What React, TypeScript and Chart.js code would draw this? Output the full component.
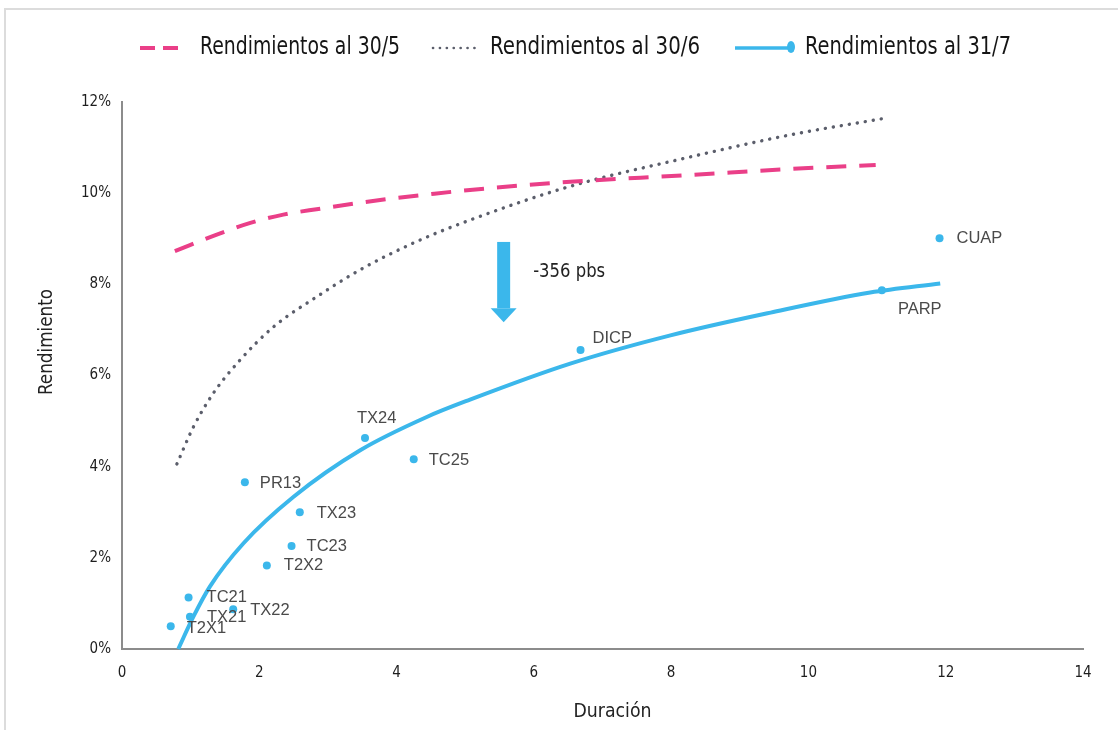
import React, { useEffect, useRef } from 'react';
import { Chart, registerables } from 'chart.js';

Chart.register(...registerables);

// ---------- data ----------
const seriesNames = ['Rendimientos al 30/5', 'Rendimientos al 30/6', 'Rendimientos al 31/7'];

// trend 30/5 (pink dashed)
const may30Dur = [0.77, 1.43, 1.87, 2.35, 2.89, 3.37, 3.91, 4.44, 5.07, 6.53, 8.18, 9.74, 10.98];
const may30Yield = [8.73, 9.12, 9.35, 9.53, 9.66, 9.77, 9.88, 9.97, 10.07, 10.25, 10.39, 10.53, 10.62];

// trend 30/6 (grey dotted)
const jun30Dur = [0.8, 1.04, 1.33, 1.72, 2.21, 2.84, 3.47, 4.25, 5.07, 6.53, 8.18, 9.74, 11.1];
const jun30Yield = [4.06, 4.87, 5.61, 6.34, 7.07, 7.73, 8.32, 8.91, 9.41, 10.15, 10.76, 11.28, 11.64];

// trend 31/7 (blue solid)
const jul31Dur = [0.82, 1.04, 1.28, 1.77, 2.5, 3.47, 4.44, 5.07, 6.53, 7.99, 9.45, 10.9, 11.92];
const jul31Yield = [0.0, 0.71, 1.37, 2.32, 3.34, 4.36, 5.09, 5.47, 6.26, 6.88, 7.38, 7.82, 8.02];

// bonds at 31/7
const bondNames = ['T2X1', 'TC21', 'TX21', 'TX22', 'T2X2', 'TC23', 'TX23', 'PR13', 'TX24', 'TC25', 'DICP', 'PARP', 'CUAP'];
const bondDur = [0.71, 0.97, 0.99, 1.62, 2.11, 2.47, 2.59, 1.79, 3.54, 4.25, 6.68, 11.07, 11.91];
const bondYield = [0.5, 1.13, 0.71, 0.87, 1.83, 2.26, 3.0, 3.66, 4.63, 4.16, 6.56, 7.87, 9.01];

const xTitle = 'Duración';
const yTitle = 'Rendimiento';

// annotation
const arrowText = '-356 pbs';
const arrowDur = 5.56;
const arrowFrom = 8.93;
const arrowTo = 7.17;
const arrowTextDur = 5.99;
const arrowTextYield = 8.27;

// ---------- styles ----------
const PINK = '#ea3f88';
const GREY = '#5b5e6b';
const BLUE = '#3bb7eb';
const NARROW = '"Liberation Sans Narrow", "DejaVu Sans Condensed", sans-serif';
const SANS = '"Liberation Sans", Arial, sans-serif';

// label offsets (px) relative to each bond point: [dx, dy]
const labelOffsets: [number, number][] = [
  [16, 2], [18, 0], [17, 1], [17, 1], [17, 0], [15, 0], [17, 1], [15, 1],
  [-8, -19], [15, 1], [12, -12], [16, 19], [17, 0],
];

const pts = (xs: number[], ys: number[]) => xs.map((x, i) => ({ x, y: ys[i] }));

const overlay = {
  id: 'overlay',
  beforeDraw(chart: any) {
    const { ctx, width, height } = chart;
    ctx.save();
    ctx.fillStyle = '#ffffff';
    ctx.fillRect(0, 0, width, height);
    ctx.strokeStyle = '#dcdcdc';
    ctx.lineWidth = 2;
    ctx.beginPath();
    ctx.moveTo(5, height + 5);
    ctx.lineTo(5, 9);
    ctx.lineTo(width + 5, 9);
    ctx.stroke();
    ctx.restore();
  },
  afterDatasetsDraw(chart: any) {
    const { ctx, scales } = chart;
    const xs = scales.x;
    const ys = scales.y;
    ctx.save();
    // bond labels
    ctx.font = `16.5px ${SANS}`;
    ctx.fillStyle = '#4a4a4a';
    ctx.textAlign = 'left';
    ctx.textBaseline = 'middle';
    bondNames.forEach((name, i) => {
      const px = xs.getPixelForValue(bondDur[i]);
      const py = ys.getPixelForValue(bondYield[i]);
      const [dx, dy] = labelOffsets[i];
      ctx.fillText(name, px + dx, py + dy);
    });
    // arrow
    const ax = xs.getPixelForValue(arrowDur);
    const ay1 = ys.getPixelForValue(arrowFrom);
    const ay2 = ys.getPixelForValue(arrowTo);
    const headLen = 14;
    ctx.fillStyle = BLUE;
    ctx.fillRect(ax - 6.5, ay1, 13, ay2 - ay1 - headLen);
    ctx.beginPath();
    ctx.moveTo(ax - 13, ay2 - headLen);
    ctx.lineTo(ax + 13, ay2 - headLen);
    ctx.lineTo(ax, ay2);
    ctx.closePath();
    ctx.fill();
    // arrow text
    ctx.font = `19px ${NARROW}`;
    ctx.fillStyle = '#222222';
    ctx.fillText(arrowText, xs.getPixelForValue(arrowTextDur), ys.getPixelForValue(arrowTextYield), 72);
    ctx.restore();
  },
  afterDraw(chart: any) {
    const { ctx, chartArea } = chart;
    ctx.save();
    // legend
    const ly = 48;
    ctx.lineCap = 'butt';
    ctx.strokeStyle = PINK;
    ctx.lineWidth = 4;
    ctx.beginPath();
    ctx.moveTo(140, ly); ctx.lineTo(155, ly);
    ctx.moveTo(163, ly); ctx.lineTo(178, ly);
    ctx.stroke();

    ctx.strokeStyle = GREY;
    ctx.lineWidth = 2.6;
    ctx.lineCap = 'round';
    ctx.setLineDash([0.1, 6.8]);
    ctx.beginPath();
    ctx.moveTo(433, ly); ctx.lineTo(480, ly);
    ctx.stroke();
    ctx.setLineDash([]);

    ctx.strokeStyle = BLUE;
    ctx.lineWidth = 3.5;
    ctx.lineCap = 'butt';
    ctx.beginPath();
    ctx.moveTo(735, ly); ctx.lineTo(789, ly);
    ctx.stroke();
    ctx.fillStyle = BLUE;
    ctx.beginPath();
    ctx.ellipse(791, ly - 1, 4, 6, 0, 0, Math.PI * 2);
    ctx.fill();

    ctx.font = `24px ${NARROW}`;
    ctx.fillStyle = '#151515';
    ctx.textAlign = 'left';
    ctx.textBaseline = 'middle';
    ctx.fillText(seriesNames[0], 200, ly, 200);
    ctx.fillText(seriesNames[1], 490, ly, 210);
    ctx.fillText(seriesNames[2], 805, ly, 206);

    // axis titles
    ctx.font = `20px ${NARROW}`;
    ctx.fillStyle = '#222222';
    ctx.textAlign = 'center';
    ctx.fillText(xTitle, (chartArea.left + chartArea.right) / 2 + 10, 712, 78);
    ctx.translate(47, 342);
    ctx.rotate(-Math.PI / 2);
    ctx.fillText(yTitle, 0, 0, 106);
    ctx.restore();
  },
};

export default function App() {
  const ref = useRef<HTMLCanvasElement | null>(null);

  useEffect(() => {
    if (!ref.current) return;
    const chart = new Chart(ref.current, {
      type: 'scatter',
      data: {
        datasets: [
          {
            label: seriesNames[0],
            data: pts(may30Dur, may30Yield),
            showLine: true,
            borderColor: PINK,
            borderWidth: 4,
            borderDash: [20, 13],
            pointRadius: 0,
            cubicInterpolationMode: 'monotone',
            clip: false,
          },
          {
            label: seriesNames[1],
            data: pts(jun30Dur, jun30Yield),
            showLine: true,
            borderColor: GREY,
            borderWidth: 3.4,
            borderDash: [0.1, 8],
            borderCapStyle: 'round',
            pointRadius: 0,
            cubicInterpolationMode: 'monotone',
            clip: false,
          },
          {
            label: seriesNames[2],
            data: pts(jul31Dur, jul31Yield),
            showLine: true,
            borderColor: BLUE,
            borderWidth: 4,
            pointRadius: 0,
            cubicInterpolationMode: 'monotone',
            clip: false,
          },
          {
            label: 'bonos',
            data: pts(bondDur, bondYield),
            showLine: false,
            backgroundColor: BLUE,
            borderWidth: 0,
            pointRadius: 4,
            clip: false,
          },
        ],
      } as any,
      options: {
        animation: false,
        responsive: false,
        devicePixelRatio: 1,
        layout: { padding: { left: 0, right: 35, top: 102, bottom: 0 } },
        plugins: {
          legend: { display: false },
          tooltip: { enabled: false },
        },
        scales: {
          x: {
            type: 'linear',
            min: 0,
            max: 14,
            grid: { display: false, drawTicks: false },
            border: { display: true, color: '#8c8c8c', width: 2 },
            ticks: {
              stepSize: 2,
              padding: 15,
              color: '#1e1e1e',
              font: { family: NARROW, size: 15 },
            },
            afterFit: (s: any) => { s.height = 81; },
          },
          y: {
            type: 'linear',
            min: 0,
            max: 12,
            grid: { display: false, drawTicks: false },
            border: { display: true, color: '#8c8c8c', width: 2 },
            ticks: {
              stepSize: 2,
              padding: 11,
              color: '#1e1e1e',
              font: { family: NARROW, size: 15 },
              callback: (v: any) => `${v}%`,
            },
            afterFit: (s: any) => { s.width = 122; },
          },
        },
      } as any,
      plugins: [overlay],
    });
    return () => chart.destroy();
  }, []);

  return (
    <div style={{ position: 'absolute', left: 0, top: 0, width: 1118, height: 730, background: '#fff', overflow: 'hidden' }}>
      <canvas ref={ref} width={1118} height={730} style={{ display: 'block' }} />
    </div>
  );
}
